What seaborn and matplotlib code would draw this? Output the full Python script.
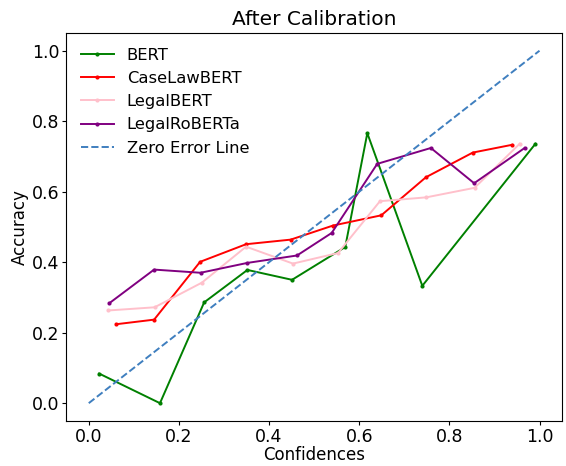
import matplotlib
matplotlib.use("Agg")
import matplotlib.pyplot as plt
import seaborn as sns
import pandas as pd

# Reliability curve values
bert_conf = [0.023, 0.158, 0.256, 0.352, 0.451, 0.569, 0.618, 0.740, 0.991]
bert_acc = [0.084, 0.000, 0.286, 0.378, 0.350, 0.443, 0.766, 0.333, 0.736]

caselaw_conf = [0.061, 0.145, 0.247, 0.349, 0.448, 0.542, 0.649, 0.748, 0.852, 0.939]
caselaw_acc = [0.224, 0.237, 0.401, 0.451, 0.464, 0.504, 0.533, 0.641, 0.711, 0.733]

legalbert_conf = [0.043, 0.146, 0.251, 0.349, 0.453, 0.553, 0.646, 0.749, 0.856, 0.956]
legalbert_acc = [0.263, 0.272, 0.342, 0.444, 0.396, 0.426, 0.573, 0.584, 0.611, 0.736]

roberta_conf = [0.046, 0.145, 0.248, 0.352, 0.462, 0.539, 0.640, 0.759, 0.855, 0.967]
roberta_acc = [0.284, 0.379, 0.370, 0.398, 0.419, 0.483, 0.679, 0.724, 0.624, 0.724]

models = ["BERT", "CaseLawBERT", "LegalBERT", "LegalRoBERTa"]
colors = ["green", "red", "pink", "purple"]
curves = [(bert_conf, bert_acc), (caselaw_conf, caselaw_acc),
          (legalbert_conf, legalbert_acc), (roberta_conf, roberta_acc)]

plt.rcParams["font.size"] = 12

fig, ax = plt.subplots(figsize=(5.66, 4.66), dpi=100)

for name, color, (conf, acc) in zip(models, colors, curves):
    df = pd.DataFrame({"Confidences": conf, "Accuracy": acc})
    sns.lineplot(data=df, x="Confidences", y="Accuracy", ax=ax, color=color,
                 marker="o", markersize=3, markeredgewidth=0, linewidth=1.4,
                 sort=False, label=name)

zero = pd.DataFrame({"x": [0.0, 1.0], "y": [0.0, 1.0]})
sns.lineplot(data=zero, x="x", y="y", ax=ax, color="#3f7fbf", linestyle="--",
             linewidth=1.4, label="Zero Error Line")

ax.set_title("After Calibration", fontsize=14.5)
ax.set_xlabel("Confidences", fontsize=12, labelpad=0)
ax.set_ylabel("Accuracy", fontsize=12, labelpad=2)
ax.set_xticks([0.0, 0.2, 0.4, 0.6, 0.8, 1.0])
ax.set_yticks([0.0, 0.2, 0.4, 0.6, 0.8, 1.0])
ax.tick_params(labelsize=12.5, length=3, pad=2)
ax.legend(loc="upper left", frameon=False, fontsize=11.8)

plt.subplots_adjust(left=0.117, right=0.993, top=0.929, bottom=0.097)
plt.savefig("out.png")
plt.close()
